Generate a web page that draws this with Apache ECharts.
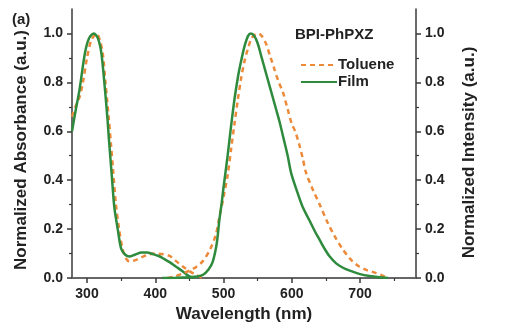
<!DOCTYPE html>
<html>
<head>
<meta charset="utf-8">
<script src="https://cdn.jsdelivr.net/npm/echarts@6/dist/echarts.min.js"></script>
<style>html,body{margin:0;padding:0;background:#fff;}#c{width:513px;height:332px;}</style>
</head>
<body>
<div id="c"></div>
<script>
// ---- data ----
const xTicks = [300, 400, 500, 600, 700];
const xMinorTicks = [350, 450, 550, 650, 750];
const yTicks = [0, 0.2, 0.4, 0.6, 0.8, 1.0];
const yMinorTicks = [0.1, 0.3, 0.5, 0.7, 0.9];

const tolAbsX = [278, 283, 289, 294, 300, 306, 314, 319, 323, 327, 332, 335, 338, 342, 347, 352, 357, 362, 370, 380, 390, 399, 410, 421, 430, 440, 450, 460, 470];
const tolAbsY = [0.66, 0.70, 0.74, 0.80, 0.90, 0.97, 1.00, 0.97, 0.92, 0.80, 0.65, 0.55, 0.45, 0.31, 0.20, 0.12, 0.08, 0.068, 0.072, 0.085, 0.096, 0.10, 0.098, 0.09, 0.07, 0.048, 0.028, 0.012, 0.0];

const filmAbsX = [278, 283, 289, 297, 303, 310, 316, 321, 326, 330, 332, 334, 336, 340, 345, 350, 356, 362, 370, 380, 388, 396, 405, 413, 421, 430, 440, 448, 456];
const filmAbsY = [0.60, 0.68, 0.77, 0.92, 0.98, 1.00, 0.98, 0.92, 0.78, 0.65, 0.57, 0.50, 0.43, 0.29, 0.20, 0.12, 0.095, 0.088, 0.095, 0.104, 0.104, 0.098, 0.09, 0.078, 0.065, 0.047, 0.028, 0.01, 0.0];

const tolPLX = [418, 430, 440, 450, 460, 470, 480, 489, 494, 497, 500, 506, 511, 516, 521, 526, 531, 536, 541, 546, 551, 556, 562, 568, 575, 581, 587, 594, 600, 605, 611, 616, 621, 631, 641, 652, 663, 674, 685, 697, 710, 724, 733, 741];
const tolPLY = [0.0, 0.008, 0.018, 0.03, 0.045, 0.07, 0.115, 0.18, 0.25, 0.29, 0.33, 0.42, 0.525, 0.63, 0.73, 0.82, 0.89, 0.94, 0.98, 0.995, 1.0, 0.99, 0.96, 0.91, 0.85, 0.80, 0.76, 0.69, 0.63, 0.60, 0.545, 0.49, 0.43, 0.36, 0.30, 0.23, 0.17, 0.12, 0.08, 0.05, 0.032, 0.02, 0.01, 0.0];

const filmPLX = [410, 430, 450, 462, 470, 478, 484, 490, 494, 497, 500, 506, 511, 516, 521, 526, 531, 536, 540, 545, 550, 556, 561, 567, 572, 577, 582, 588, 594, 599, 607, 616, 626, 634, 641, 648, 655, 665, 675, 685, 700, 714, 728, 741];
const filmPLY = [0.0, 0.001, 0.003, 0.006, 0.013, 0.035, 0.065, 0.14, 0.24, 0.30, 0.37, 0.50, 0.62, 0.73, 0.82, 0.89, 0.95, 0.99, 1.00, 0.99, 0.96, 0.90, 0.85, 0.79, 0.74, 0.69, 0.64, 0.57, 0.50, 0.43, 0.36, 0.29, 0.235, 0.19, 0.155, 0.12, 0.09, 0.06, 0.042, 0.03, 0.016, 0.008, 0.003, 0.0];

const xMin = 278, xMax = 782, yMin = 0, yMax = 1.1;

// ---- chart ----
const GREEN = '#2e8b3d';
const ORANGE = '#ec8a3a';
const AXIS = '#3a3a3a';
const FONT = 'Liberation Sans, Arial, sans-serif';
const zip = (xs, ys) => xs.map((x, i) => [x, ys[i]]);

const chart = echarts.init(document.getElementById('c'), null, {renderer: 'canvas'});

const xBase = {type: 'value', min: xMin, max: xMax, splitLine: {show: false}};
const yBase = {type: 'value', min: yMin, max: yMax, splitLine: {show: false}};
const labelStyle = {color: '#222', fontFamily: FONT, fontWeight: 'bold', fontSize: 14};
const nameStyle = {color: '#222', fontFamily: FONT, fontWeight: 'bold', fontSize: 17};

chart.setOption({
  animation: false,
  backgroundColor: '#fff',
  grid: {left: 72, right: 97, top: 9, bottom: 54, containLabel: false},
  graphic: [
    {type: 'text', left: 12, top: 12, style: {text: '(a)', font: 'bold 15px ' + FONT, fill: '#222'}},
    {type: 'text', left: 295, top: 27, style: {text: 'BPI-PhPXZ', font: 'bold 15px ' + FONT, fill: '#222'}}
  ],
  legend: {
    data: ['Toluene', 'Film'],
    orient: 'vertical', left: 295, top: 52,
    itemWidth: 36, itemHeight: 10, itemGap: 1,
    itemStyle: {opacity: 0},
    textStyle: {color: '#222', fontFamily: FONT, fontWeight: 'bold', fontSize: 15, lineHeight: 16, padding: [0, 0, 0, -4]},
    selectedMode: false
  },
  xAxis: [
    Object.assign({}, xBase, {
      position: 'bottom', name: 'Wavelength (nm)', nameLocation: 'middle', nameGap: 28,
      nameTextStyle: nameStyle,
      axisLine: {show: true, lineStyle: {color: AXIS, width: 1.5}},
      axisTick: {show: true, inside: false, length: 5, lineStyle: {color: AXIS, width: 1.5}, customValues: xTicks},
      axisLabel: Object.assign({margin: 9, customValues: xTicks}, labelStyle)
    }),
    Object.assign({}, xBase, {
      position: 'bottom',
      axisLine: {show: false},
      axisTick: {show: true, length: 3, lineStyle: {color: AXIS, width: 1.2}, customValues: xMinorTicks},
      axisLabel: {show: false}
    }),
    Object.assign({}, xBase, {
      position: 'top',
      axisLine: {show: true, lineStyle: {color: '#666', width: 1.5}},
      axisTick: {show: false}, axisLabel: {show: false}
    })
  ],
  yAxis: [
    Object.assign({}, yBase, {
      position: 'left', name: 'Normalized Absorbance (a.u.)', nameLocation: 'middle', nameGap: 42,
      nameTextStyle: Object.assign({padding: [0, 13, 0, 0]}, nameStyle),
      axisLine: {show: true, lineStyle: {color: AXIS, width: 1.5}},
      axisTick: {show: true, length: 5, lineStyle: {color: AXIS, width: 1.5}, customValues: yTicks},
      axisLabel: Object.assign({margin: 9, customValues: yTicks, formatter: v => v.toFixed(1)}, labelStyle)
    }),
    Object.assign({}, yBase, {
      position: 'right', name: 'Normalized Intensity (a.u.)', nameLocation: 'middle', nameGap: 45,
      nameTextStyle: Object.assign({padding: [0, 18, 0, 0]}, nameStyle), nameRotate: 90,
      axisLine: {show: true, lineStyle: {color: AXIS, width: 1.5}},
      axisTick: {show: true, length: 5, lineStyle: {color: AXIS, width: 1.5}, customValues: yTicks},
      axisLabel: Object.assign({margin: 9, customValues: yTicks, formatter: v => v.toFixed(1)}, labelStyle)
    }),
    Object.assign({}, yBase, {
      position: 'left',
      axisLine: {show: false},
      axisTick: {show: true, length: 3, lineStyle: {color: AXIS, width: 1.2}, customValues: yMinorTicks},
      axisLabel: {show: false}
    }),
    Object.assign({}, yBase, {
      position: 'right',
      axisLine: {show: false},
      axisTick: {show: true, length: 3, lineStyle: {color: AXIS, width: 1.2}, customValues: yMinorTicks},
      axisLabel: {show: false}
    })
  ],
  series: [
    {name: 'Toluene', type: 'line', xAxisIndex: 0, yAxisIndex: 0, data: zip(tolAbsX, tolAbsY),
     showSymbol: false, symbol: 'none', smooth: 0.3, lineStyle: {color: ORANGE, width: 2.5, type: [5, 4]}, itemStyle: {color: ORANGE}},
    {name: 'Film', type: 'line', xAxisIndex: 0, yAxisIndex: 0, data: zip(filmAbsX, filmAbsY),
     showSymbol: false, symbol: 'none', smooth: 0.3, lineStyle: {color: GREEN, width: 2.5}, itemStyle: {color: GREEN}},
    {name: 'Toluene', type: 'line', xAxisIndex: 0, yAxisIndex: 1, data: zip(tolPLX, tolPLY),
     showSymbol: false, symbol: 'none', smooth: 0.3, lineStyle: {color: ORANGE, width: 2.5, type: [5, 4]}, itemStyle: {color: ORANGE}},
    {name: 'Film', type: 'line', xAxisIndex: 0, yAxisIndex: 1, data: zip(filmPLX, filmPLY),
     showSymbol: false, symbol: 'none', smooth: 0.3, lineStyle: {color: GREEN, width: 2.5}, itemStyle: {color: GREEN}}
  ]
});
</script>
</body>
</html>
